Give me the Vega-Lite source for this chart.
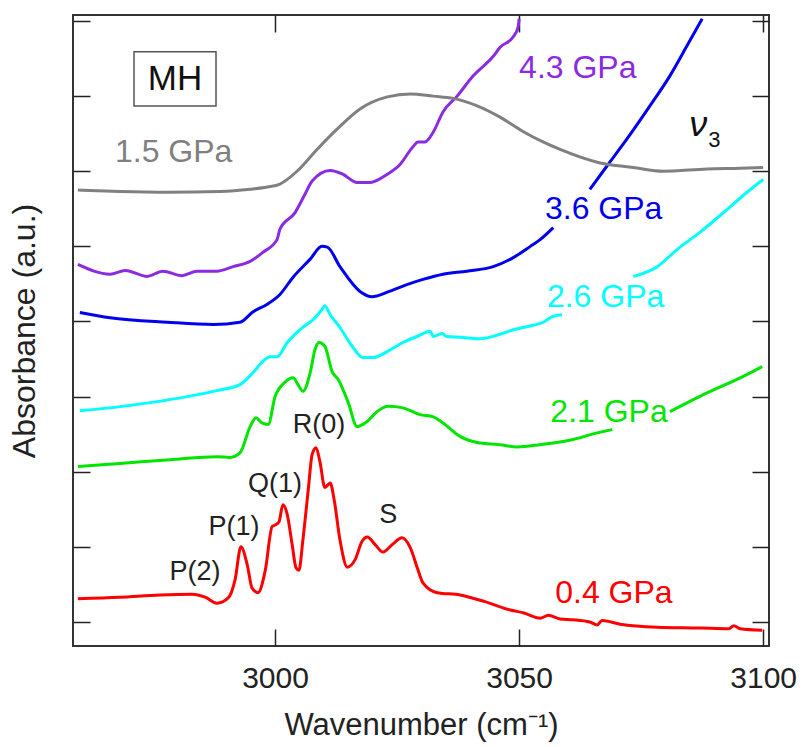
{
  "$schema": "https://vega.github.io/schema/vega-lite/v6.json",
  "width": 696,
  "height": 631,
  "autosize": {"type": "none"},
  "padding": {"left": 73, "top": 15, "right": 35, "bottom": 101},
  "background": "white",
  "config": {
    "view": {"stroke": "#333333", "strokeWidth": 2},
    "font": "Liberation Sans",
    "axis": {"grid": false, "domain": false, "tickColor": "#222222", "tickWidth": 1.5, "labelFont": "Liberation Sans", "titleFont": "Liberation Sans", "titleFontWeight": "normal", "labelColor": "#222222", "titleColor": "#222222"}
  },
  "datasets": {
    "spectra": [
      {"s":"0.4 GPa","x":2959.6,"y":0.31},{"s":"0.4 GPa","x":2968.2,"y":0.33},{"s":"0.4 GPa","x":2976.4,"y":0.36},{"s":"0.4 GPa","x":2983.0,"y":0.37},{"s":"0.4 GPa","x":2985.7,"y":0.33},{"s":"0.4 GPa","x":2988.1,"y":0.25},{"s":"0.4 GPa","x":2990.4,"y":0.32},{"s":"0.4 GPa","x":2991.8,"y":0.56},{"s":"0.4 GPa","x":2993.0,"y":1.0},{"s":"0.4 GPa","x":2994.3,"y":0.76},{"s":"0.4 GPa","x":2995.3,"y":0.45},{"s":"0.4 GPa","x":2996.5,"y":0.39},{"s":"0.4 GPa","x":2998.0,"y":0.69},{"s":"0.4 GPa","x":2999.4,"y":1.27},{"s":"0.4 GPa","x":3000.0,"y":1.29},{"s":"0.4 GPa","x":3000.8,"y":1.33},{"s":"0.4 GPa","x":3001.6,"y":1.56},{"s":"0.4 GPa","x":3002.5,"y":1.43},{"s":"0.4 GPa","x":3003.5,"y":1.03},{"s":"0.4 GPa","x":3004.3,"y":0.72},{"s":"0.4 GPa","x":3004.9,"y":0.69},{"s":"0.4 GPa","x":3005.7,"y":1.09},{"s":"0.4 GPa","x":3006.8,"y":1.76},{"s":"0.4 GPa","x":3007.6,"y":2.23},{"s":"0.4 GPa","x":3008.4,"y":2.32},{"s":"0.4 GPa","x":3009.2,"y":2.13},{"s":"0.4 GPa","x":3010.2,"y":1.79},{"s":"0.4 GPa","x":3011.3,"y":1.85},{"s":"0.4 GPa","x":3012.1,"y":1.63},{"s":"0.4 GPa","x":3013.3,"y":1.09},{"s":"0.4 GPa","x":3014.8,"y":0.73},{"s":"0.4 GPa","x":3016.4,"y":0.83},{"s":"0.4 GPa","x":3017.8,"y":1.07},{"s":"0.4 GPa","x":3018.9,"y":1.13},{"s":"0.4 GPa","x":3020.5,"y":1.03},{"s":"0.4 GPa","x":3022.1,"y":0.93},{"s":"0.4 GPa","x":3024.0,"y":1.03},{"s":"0.4 GPa","x":3026.0,"y":1.12},{"s":"0.4 GPa","x":3027.7,"y":0.99},{"s":"0.4 GPa","x":3029.3,"y":0.69},{"s":"0.4 GPa","x":3030.3,"y":0.52},{"s":"0.4 GPa","x":3033.2,"y":0.39},{"s":"0.4 GPa","x":3037.9,"y":0.36},{"s":"0.4 GPa","x":3043.0,"y":0.27},{"s":"0.4 GPa","x":3048.2,"y":0.16},{"s":"0.4 GPa","x":3051.0,"y":0.12},{"s":"0.4 GPa","x":3054.3,"y":0.05},{"s":"0.4 GPa","x":3056.0,"y":0.09},{"s":"0.4 GPa","x":3058.4,"y":0.04},{"s":"0.4 GPa","x":3061.0,"y":0.03},{"s":"0.4 GPa","x":3064.5,"y":0.0},{"s":"0.4 GPa","x":3066.0,"y":-0.04},{"s":"0.4 GPa","x":3067.0,"y":0.02},{"s":"0.4 GPa","x":3070.7,"y":-0.03},{"s":"0.4 GPa","x":3078.3,"y":-0.07},{"s":"0.4 GPa","x":3087.1,"y":-0.08},{"s":"0.4 GPa","x":3093.0,"y":-0.09},{"s":"0.4 GPa","x":3094.0,"y":-0.05},{"s":"0.4 GPa","x":3095.3,"y":-0.09},{"s":"0.4 GPa","x":3099.8,"y":-0.11},

      {"s":"2.1 GPa","x":2959.6,"y":2.07},{"s":"2.1 GPa","x":2968.2,"y":2.11},{"s":"2.1 GPa","x":2978.5,"y":2.16},{"s":"2.1 GPa","x":2988.1,"y":2.2},{"s":"2.1 GPa","x":2990.8,"y":2.19},{"s":"2.1 GPa","x":2992.8,"y":2.25},{"s":"2.1 GPa","x":2994.9,"y":2.6},{"s":"2.1 GPa","x":2996.1,"y":2.72},{"s":"2.1 GPa","x":2997.3,"y":2.65},{"s":"2.1 GPa","x":2998.6,"y":2.63},{"s":"2.1 GPa","x":3000.0,"y":3.0},{"s":"2.1 GPa","x":3002.0,"y":3.19},{"s":"2.1 GPa","x":3003.7,"y":3.25},{"s":"2.1 GPa","x":3004.7,"y":3.16},{"s":"2.1 GPa","x":3005.7,"y":3.07},{"s":"2.1 GPa","x":3007.2,"y":3.32},{"s":"2.1 GPa","x":3008.2,"y":3.63},{"s":"2.1 GPa","x":3009.0,"y":3.72},{"s":"2.1 GPa","x":3010.2,"y":3.67},{"s":"2.1 GPa","x":3011.7,"y":3.33},{"s":"2.1 GPa","x":3012.9,"y":3.23},{"s":"2.1 GPa","x":3015.0,"y":2.92},{"s":"2.1 GPa","x":3016.8,"y":2.6},{"s":"2.1 GPa","x":3018.9,"y":2.67},{"s":"2.1 GPa","x":3020.9,"y":2.8},{"s":"2.1 GPa","x":3023.2,"y":2.87},{"s":"2.1 GPa","x":3026.2,"y":2.85},{"s":"2.1 GPa","x":3029.7,"y":2.76},{"s":"2.1 GPa","x":3032.4,"y":2.73},{"s":"2.1 GPa","x":3034.4,"y":2.65},{"s":"2.1 GPa","x":3037.9,"y":2.47},{"s":"2.1 GPa","x":3041.4,"y":2.39},{"s":"2.1 GPa","x":3046.1,"y":2.36},{"s":"2.1 GPa","x":3049.6,"y":2.33},{"s":"2.1 GPa","x":3054.3,"y":2.36},{"s":"2.1 GPa","x":3061.1,"y":2.43},{"s":"2.1 GPa","x":3065.0,"y":2.5},{"s":"2.1 GPa","x":3069.1,"y":2.56},{"s":"2.1 GPa","x":3075.0,"y":null},{"s":"2.1 GPa","x":3080.9,"y":2.8},{"s":"2.1 GPa","x":3088.5,"y":3.05},{"s":"2.1 GPa","x":3095.3,"y":3.25},{"s":"2.1 GPa","x":3099.8,"y":3.4},

      {"s":"2.6 GPa","x":2960.0,"y":2.81},{"s":"2.6 GPa","x":2966.2,"y":2.85},{"s":"2.6 GPa","x":2974.4,"y":2.92},{"s":"2.6 GPa","x":2982.0,"y":3.0},{"s":"2.6 GPa","x":2988.1,"y":3.08},{"s":"2.6 GPa","x":2992.8,"y":3.16},{"s":"2.6 GPa","x":2995.5,"y":3.32},{"s":"2.6 GPa","x":2997.5,"y":3.47},{"s":"2.6 GPa","x":2999.0,"y":3.53},{"s":"2.6 GPa","x":3000.4,"y":3.53},{"s":"2.6 GPa","x":3002.5,"y":3.72},{"s":"2.6 GPa","x":3005.1,"y":3.89},{"s":"2.6 GPa","x":3008.2,"y":4.05},{"s":"2.6 GPa","x":3009.6,"y":4.16},{"s":"2.6 GPa","x":3010.2,"y":4.21},{"s":"2.6 GPa","x":3011.3,"y":4.09},{"s":"2.6 GPa","x":3013.3,"y":3.92},{"s":"2.6 GPa","x":3015.8,"y":3.67},{"s":"2.6 GPa","x":3018.0,"y":3.52},{"s":"2.6 GPa","x":3020.1,"y":3.52},{"s":"2.6 GPa","x":3023.0,"y":3.6},{"s":"2.6 GPa","x":3026.2,"y":3.72},{"s":"2.6 GPa","x":3029.1,"y":3.8},{"s":"2.6 GPa","x":3031.8,"y":3.87},{"s":"2.6 GPa","x":3032.4,"y":3.8},{"s":"2.6 GPa","x":3034.2,"y":3.84},{"s":"2.6 GPa","x":3035.2,"y":3.8},{"s":"2.6 GPa","x":3037.9,"y":3.79},{"s":"2.6 GPa","x":3042.0,"y":3.77},{"s":"2.6 GPa","x":3046.1,"y":3.83},{"s":"2.6 GPa","x":3048.8,"y":3.89},{"s":"2.6 GPa","x":3051.6,"y":3.93},{"s":"2.6 GPa","x":3054.9,"y":3.99},{"s":"2.6 GPa","x":3057.0,"y":4.07},{"s":"2.6 GPa","x":3058.8,"y":4.09},{"s":"2.6 GPa","x":3066.0,"y":null},{"s":"2.6 GPa","x":3073.4,"y":4.6},{"s":"2.6 GPa","x":3078.3,"y":4.73},{"s":"2.6 GPa","x":3082.4,"y":4.96},{"s":"2.6 GPa","x":3087.1,"y":5.19},{"s":"2.6 GPa","x":3092.6,"y":5.49},{"s":"2.6 GPa","x":3096.7,"y":5.72},{"s":"2.6 GPa","x":3100.0,"y":5.89},

      {"s":"3.6 GPa","x":2960.0,"y":4.12},{"s":"3.6 GPa","x":2966.2,"y":4.05},{"s":"3.6 GPa","x":2977.9,"y":3.99},{"s":"3.6 GPa","x":2987.3,"y":3.96},{"s":"3.6 GPa","x":2992.8,"y":3.99},{"s":"3.6 GPa","x":2995.5,"y":4.13},{"s":"3.6 GPa","x":2998.4,"y":4.23},{"s":"3.6 GPa","x":3001.0,"y":4.36},{"s":"3.6 GPa","x":3003.7,"y":4.59},{"s":"3.6 GPa","x":3007.2,"y":4.83},{"s":"3.6 GPa","x":3009.6,"y":5.0},{"s":"3.6 GPa","x":3010.7,"y":4.99},{"s":"3.6 GPa","x":3013.3,"y":4.73},{"s":"3.6 GPa","x":3017.4,"y":4.4},{"s":"3.6 GPa","x":3019.9,"y":4.33},{"s":"3.6 GPa","x":3023.0,"y":4.39},{"s":"3.6 GPa","x":3027.0,"y":4.49},{"s":"3.6 GPa","x":3030.3,"y":4.56},{"s":"3.6 GPa","x":3034.4,"y":4.63},{"s":"3.6 GPa","x":3039.3,"y":4.67},{"s":"3.6 GPa","x":3044.7,"y":4.73},{"s":"3.6 GPa","x":3048.8,"y":4.85},{"s":"3.6 GPa","x":3052.3,"y":5.0},{"s":"3.6 GPa","x":3054.3,"y":5.09},{"s":"3.6 GPa","x":3057.0,"y":5.25},{"s":"3.6 GPa","x":3060.5,"y":null},{"s":"3.6 GPa","x":3064.5,"y":5.76},{"s":"3.6 GPa","x":3068.0,"y":6.07},{"s":"3.6 GPa","x":3072.1,"y":6.43},{"s":"3.6 GPa","x":3076.8,"y":6.87},{"s":"3.6 GPa","x":3080.9,"y":7.27},{"s":"3.6 GPa","x":3084.4,"y":7.67},{"s":"3.6 GPa","x":3087.5,"y":8.03},

      {"s":"4.3 GPa","x":2959.6,"y":4.76},{"s":"4.3 GPa","x":2966.2,"y":4.63},{"s":"4.3 GPa","x":2969.3,"y":4.68},{"s":"4.3 GPa","x":2973.8,"y":4.6},{"s":"4.3 GPa","x":2977.0,"y":4.67},{"s":"4.3 GPa","x":2980.9,"y":4.61},{"s":"4.3 GPa","x":2984.0,"y":4.67},{"s":"4.3 GPa","x":2988.1,"y":4.67},{"s":"4.3 GPa","x":2991.4,"y":4.73},{"s":"4.3 GPa","x":2994.9,"y":4.8},{"s":"4.3 GPa","x":2997.5,"y":4.92},{"s":"4.3 GPa","x":3000.4,"y":5.09},{"s":"4.3 GPa","x":3001.0,"y":5.23},{"s":"4.3 GPa","x":3004.1,"y":5.45},{"s":"4.3 GPa","x":3006.1,"y":5.69},{"s":"4.3 GPa","x":3007.6,"y":5.87},{"s":"4.3 GPa","x":3011.3,"y":6.01},{"s":"4.3 GPa","x":3013.9,"y":5.96},{"s":"4.3 GPa","x":3016.8,"y":5.85},{"s":"4.3 GPa","x":3019.5,"y":5.85},{"s":"4.3 GPa","x":3023.0,"y":5.96},{"s":"4.3 GPa","x":3025.6,"y":6.09},{"s":"4.3 GPa","x":3028.3,"y":6.33},{"s":"4.3 GPa","x":3029.3,"y":6.39},{"s":"4.3 GPa","x":3030.7,"y":6.39},{"s":"4.3 GPa","x":3032.4,"y":6.52},{"s":"4.3 GPa","x":3034.4,"y":6.79},{"s":"4.3 GPa","x":3037.3,"y":7.0},{"s":"4.3 GPa","x":3040.6,"y":7.27},{"s":"4.3 GPa","x":3044.7,"y":7.53},{"s":"4.3 GPa","x":3046.1,"y":7.65},{"s":"4.3 GPa","x":3048.8,"y":7.79},{"s":"4.3 GPa","x":3049.8,"y":7.92},{"s":"4.3 GPa","x":3050.0,"y":8.03},

      {"s":"1.5 GPa","x":2959.6,"y":5.75},{"s":"1.5 GPa","x":2968.2,"y":5.73},{"s":"1.5 GPa","x":2977.9,"y":5.72},{"s":"1.5 GPa","x":2988.7,"y":5.73},{"s":"1.5 GPa","x":2994.9,"y":5.76},{"s":"1.5 GPa","x":2998.4,"y":5.79},{"s":"1.5 GPa","x":3001.0,"y":5.83},{"s":"1.5 GPa","x":3004.5,"y":6.0},{"s":"1.5 GPa","x":3008.6,"y":6.29},{"s":"1.5 GPa","x":3012.7,"y":6.56},{"s":"1.5 GPa","x":3017.4,"y":6.83},{"s":"1.5 GPa","x":3023.0,"y":6.99},{"s":"1.5 GPa","x":3027.7,"y":7.03},{"s":"1.5 GPa","x":3032.4,"y":7.0},{"s":"1.5 GPa","x":3036.5,"y":6.97},{"s":"1.5 GPa","x":3041.4,"y":6.87},{"s":"1.5 GPa","x":3046.1,"y":6.72},{"s":"1.5 GPa","x":3050.8,"y":6.53},{"s":"1.5 GPa","x":3054.9,"y":6.39},{"s":"1.5 GPa","x":3058.4,"y":6.29},{"s":"1.5 GPa","x":3066.6,"y":6.11},{"s":"1.5 GPa","x":3073.4,"y":6.05},{"s":"1.5 GPa","x":3079.5,"y":6.0},{"s":"1.5 GPa","x":3088.5,"y":6.03},{"s":"1.5 GPa","x":3095.3,"y":6.04},{"s":"1.5 GPa","x":3100.0,"y":6.05}
    ],
    "seriesLabels": [
      {"s":"1.5 GPa","x":2967.2,"y":6.25},
      {"s":"4.3 GPa","x":3050.0,"y":7.38},
      {"s":"3.6 GPa","x":3055.3,"y":5.5},
      {"s":"2.6 GPa","x":3055.7,"y":4.33},
      {"s":"2.1 GPa","x":3056.4,"y":2.8},
      {"s":"0.4 GPa","x":3057.4,"y":0.39}
    ],
    "peaks": [
      {"t":"R(0)","x":3009.0,"y":2.62},
      {"t":"Q(1)","x":3000.0,"y":1.84},
      {"t":"P(1)","x":2991.6,"y":1.26},
      {"t":"P(2)","x":2983.6,"y":0.67},
      {"t":"S","x":3023.2,"y":1.42}
    ],
    "box": [{"x":2971.1,"x2":2987.9,"y":6.87,"y2":7.59,"t":"MH","xc":2979.5,"yc":7.23}],
    "mode": [{"t":"ν","x":3086.7,"y":6.62,"sub":"3","xs":3090.0,"ys":6.42}]
  },
  "resolve": {"axis": {"x": "independent", "y": "independent"}},
  "layer": [
    {
      "data": {"name": "spectra"},
      "mark": {"type": "line", "strokeWidth": 3, "interpolate": "monotone", "invalid": "break-paths-show-domains", "clip": true},
      "encoding": {
        "x": {"field": "x", "type": "quantitative", "scale": {"domain": [2958.6, 3101.2], "nice": false, "zero": false},
              "axis": {"orient": "bottom", "values": [3000, 3050, 3100], "format": "d", "tickSize": -17, "labelPadding": 34, "labelFontSize": 30, "title": "Wavenumber (cm⁻¹)", "titleFontSize": 31, "titlePadding": 17}},
        "y": {"field": "y", "type": "quantitative", "scale": {"domain": [-0.32, 8.08], "nice": false, "zero": false},
              "axis": {"orient": "left", "values": [0,1,2,3,4,5,6,7,8], "tickSize": -17, "labels": false, "title": "Absorbance (a.u.)", "titleFontSize": 32, "titlePadding": 31}},
        "color": {"field": "s", "type": "nominal", "legend": null,
                  "scale": {"domain": ["0.4 GPa","2.1 GPa","2.6 GPa","3.6 GPa","4.3 GPa","1.5 GPa"], "range": ["#ff0000","#00e600","#00ffff","#0000ee","#8a2be2","#808080"]}},
        "detail": {"field": "s"}
      }
    },
    {
      "data": {"name": "seriesLabels"},
      "mark": {"type": "text", "align": "left", "baseline": "middle", "fontSize": 32, "font": "Liberation Sans"},
      "encoding": {
        "x": {"field": "x", "type": "quantitative", "scale": {"domain": [2958.6, 3101.2], "nice": false, "zero": false},
              "axis": {"orient": "top", "values": [3000, 3050, 3100], "tickSize": -17, "labels": false, "title": null}},
        "y": {"field": "y", "type": "quantitative", "scale": {"domain": [-0.32, 8.08], "nice": false, "zero": false},
              "axis": {"orient": "right", "values": [0,1,2,3,4,5,6,7,8], "tickSize": -17, "labels": false, "title": null}},
        "text": {"field": "s"},
        "color": {"field": "s", "type": "nominal", "legend": null,
                  "scale": {"domain": ["0.4 GPa","2.1 GPa","2.6 GPa","3.6 GPa","4.3 GPa","1.5 GPa"], "range": ["#ff0000","#00e600","#00ffff","#0000ee","#8a2be2","#808080"]}}
      }
    },
    {
      "data": {"name": "peaks"},
      "mark": {"type": "text", "align": "center", "baseline": "middle", "fontSize": 27, "font": "Liberation Sans", "color": "#222222"},
      "encoding": {
        "x": {"field": "x", "type": "quantitative", "axis": null, "scale": {"domain": [2958.6, 3101.2], "nice": false, "zero": false}},
        "y": {"field": "y", "type": "quantitative", "axis": null, "scale": {"domain": [-0.32, 8.08], "nice": false, "zero": false}},
        "text": {"field": "t"}
      }
    },
    {
      "data": {"name": "box"},
      "mark": {"type": "rect", "fill": "white", "stroke": "#555555", "strokeWidth": 1.5},
      "encoding": {
        "x": {"field": "x", "type": "quantitative", "axis": null, "scale": {"domain": [2958.6, 3101.2], "nice": false, "zero": false}},
        "x2": {"field": "x2"},
        "y": {"field": "y", "type": "quantitative", "axis": null, "scale": {"domain": [-0.32, 8.08], "nice": false, "zero": false}},
        "y2": {"field": "y2"}
      }
    },
    {
      "data": {"name": "box"},
      "mark": {"type": "text", "align": "center", "baseline": "middle", "fontSize": 35, "font": "Liberation Sans", "color": "#111111"},
      "encoding": {
        "x": {"field": "xc", "type": "quantitative", "axis": null, "scale": {"domain": [2958.6, 3101.2], "nice": false, "zero": false}},
        "y": {"field": "yc", "type": "quantitative", "axis": null, "scale": {"domain": [-0.32, 8.08], "nice": false, "zero": false}},
        "text": {"field": "t"}
      }
    },
    {
      "data": {"name": "mode"},
      "mark": {"type": "text", "align": "center", "baseline": "middle", "fontSize": 36, "fontStyle": "italic", "font": "Liberation Sans", "color": "#111111"},
      "encoding": {
        "x": {"field": "x", "type": "quantitative", "axis": null, "scale": {"domain": [2958.6, 3101.2], "nice": false, "zero": false}},
        "y": {"field": "y", "type": "quantitative", "axis": null, "scale": {"domain": [-0.32, 8.08], "nice": false, "zero": false}},
        "text": {"field": "t"}
      }
    },
    {
      "data": {"name": "mode"},
      "mark": {"type": "text", "align": "center", "baseline": "middle", "fontSize": 22, "font": "Liberation Sans", "color": "#111111"},
      "encoding": {
        "x": {"field": "xs", "type": "quantitative", "axis": null, "scale": {"domain": [2958.6, 3101.2], "nice": false, "zero": false}},
        "y": {"field": "ys", "type": "quantitative", "axis": null, "scale": {"domain": [-0.32, 8.08], "nice": false, "zero": false}},
        "text": {"field": "sub"}
      }
    }
  ]
}
